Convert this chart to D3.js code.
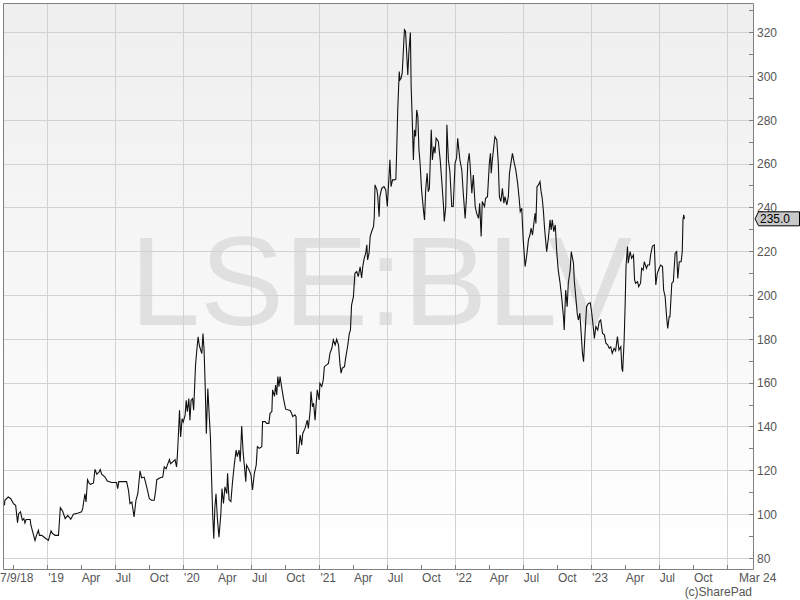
<!DOCTYPE html>
<html>
<head>
<meta charset="utf-8">
<script src="https://cdn.jsdelivr.net/npm/d3@7"></script>
<style>
  body { margin: 0; background: #fff; }
  svg text { font-family: "Liberation Sans", Arial, sans-serif; }
</style>
</head>
<body>
<svg id="chart" width="800" height="600"></svg>
<script>
// share price of LSE:BLV
var ticker = "LSE:BLV";
var startDate = "2018-09-07";   // day 0 of dayOffsets
var domainStart = "2018-09-03";
var domainEnd = "2024-03-09";
var firstLabel = "7/9/18";
var lastLabel = "Mar 24";
var lastPrice = "235.0";
var credit = "(c)SharePad";

var dayOffsets = [
  0,1,10,17,24,30,35,38,43,48,52,55,58,69,71,77,82,86,91,94,100,109,118,125,129,136,145,150,156,163,
  170,178,185,198,207,210,216,219,223,228,231,239,243,248,254,257,261,270,276,288,301,304,307,328,333,
  337,342,348,353,358,364,368,375,379,384,389,395,402,406,409,418,425,429,434,438,443,446,452,458,462,
  464,467,470,473,477,480,485,488,491,495,498,501,505,508,513,516,520,523,527,530,533,536,539,542,546,
  550,553,556,559,562,565,568,572,576,581,584,588,592,597,
  599,603,608,612,617,622,625,630,633,637,641,644,648,650,657,662,666,671,676,679,684,691,693,700,704,
  710,713,718,720,725,728,731,734,737,740,744,749,755,767,771,774,780,783,785,789,794,798,801,807,813,
  816,821,823,827,830,834,837,840,845,847,852,856,859,865,870,874,879,883,888,892,897,901,904,907,913,
  916,922,926,929,932,937,941,946,950,955,959,962,966,970,973,975,979,982,986,991,993,995,1000,1002,1006,
  1008,1013,1019,1024,1028,1031,1035,1038,1042,1047,1051,1053,1056,1060,1062,1065,1068,1071,1074,1077,
  1080,1083,1086,1090,1092,1095,1098,1101,1104,1107,1110,1113,1116,1120,1125,1128,1131,1135,1138,1141,
  1146,1149,1153,1156,1159,1165,1170,1174,1179,1181,1185,1188,1192,1196,1201,1205,1210,1214,1217,
  1221,1223,1228,1232,1237,1241,1244,1248,1250,1255,1259,1264,1268,1273,1276,1280,1283,1289,1292,1297,
  1302,1305,1307,1310,1315,1317,1322,1326,1329,1333,1337,1341,1344,1349,1353,1356,1360,1364,1369,1373,
  1378,1382,1385,1389,1393,1398,1402,1407,1411,1414,1418,1422,1425,1427,1430,1434,1438,1441,1444,1447,
  1450,1453,1456,1461,1465,1468,1471,1475,1479,1483,1487,1492,1496,1501,1503,1507,1511,1514,1519,1522,
  1528,1530,1534,1538,1541,1545,1548,1552,1555,1559,1563,1568,1573,1577,1581,1584,1588,1593,1597,1601,
  1606,1611,1615,1620,1624,1628,1632,1637,1641,1646,1650,1655,1658,1660,1664,1667,1669,1673,1675,1680,
  1684,1689,1692,1695,1700,1703,1708,1711,1715,1718,1724,1727,1732,1735,1740,1745,1749,1753,1758,1762,
  1767,1770,1774,1778,1781,1785,1787,1792,1796,1801,1805,1808,1812,1817,1820,1822,1824,1826
];

var prices = [
  104.2,106.5,108.0,107.2,105.0,104.2,96.3,100.4,101.2,97.4,98.1,96.1,97.7,97.7,95.1,91.3,88.2,90.5,92.8,90.5,
  90.5,89.3,88.2,92.5,91.3,90.5,90.5,103.1,101.6,98.1,99.6,97.8,100.1,100.7,101.2,102.7,109.5,105.7,115.9,114.1,
  113.8,114.4,120.6,118.4,119.4,120.5,118.4,117.1,115.3,114.6,114.6,111.8,115.0,115.0,111.0,105.0,105.7,98.9,106.5,109.5,
  119.9,116.8,117.1,114.6,111.0,107.2,106.5,106.5,111.0,115.9,116.8,117.1,121.7,120.9,122.9,125.1,123.2,124.0,125.1,121.7,
  126.3,136.2,147.6,135.4,143.8,142.3,145.3,152.1,146.9,152.9,143.0,152.1,152.9,147.6,168.1,174.2,181.1,177.3,175.0,173.5,
  182.6,175.0,158.2,136.9,157.5,144.5,135.4,117.1,100.4,89.0,103.4,109.5,97.4,89.7,100.4,111.8,105.0,112.6,109.5,
  118.8,106.7,105.9,114.3,122.6,129.4,126.4,129.4,124.1,140.4,127.9,122.6,115.0,122.6,120.3,118.0,111.2,118.8,122.6,131.0,
  130.2,131.0,142.4,142.4,141.6,141.6,146.2,147.0,156.9,153.9,159.1,154.6,163.0,158.4,163.0,158.4,153.1,148.1,147.5,146.2,
  144.7,145.5,144.7,127.9,127.9,136.3,131.7,137.0,139.3,143.1,139.3,147.7,156.1,149.2,150.8,143.1,150.8,156.9,152.3,159.9,
  158.4,161.4,167.5,168.3,169.0,173.6,175.9,179.7,177.4,180.0,177.4,168.3,164.5,166.8,167.5,171.3,177.4,182.7,184.2,195.6,
  199.5,210.1,210.9,208.6,213.1,208.0,213.1,217.0,219.3,223.1,216.2,219.3,226.9,229.2,231.5,236.0,250.5,248.2,245.9,236.0,
  245.1,248.9,249.7,248.2,240.6,249.7,261.9,249.7,252.8,252.8,253.1,264.9,284.7,302.2,298.4,299.2,301.5,311.4,321.3,320.5,
  310.6,300.7,311.4,320.0,295.4,280.2,261.9,275.6,272.6,284.7,281.7,266.5,260.4,248.2,239.1,234.5,248.2,255.8,247.4,248.9,
  275.6,261.9,268.0,265.0,271.8,270.3,261.9,252.8,240.6,233.8,240.6,277.9,261.9,256.7,240.6,240.6,260.4,262.7,271.8,
  264.9,261.9,257.3,246.7,235.2,245.9,260.4,264.9,260.4,246.7,255.0,240.6,237.5,235.2,242.1,226.9,242.9,240.6,244.4,245.1,
  260.4,264.9,255.8,261.9,269.5,272.5,271.0,260.4,245.1,242.9,248.9,242.1,245.1,241.3,245.1,255.8,260.4,264.9,260.4,257.3,
  251.2,244.4,238.3,239.8,225.4,213.2,217.7,225.4,227.6,230.7,227.6,233.7,237.5,232.9,249.7,250.5,252.0,247.4,244.4,239.0,
  231.4,225.4,220.0,226.9,234.5,229.9,234.5,229.1,232.2,220.0,211.6,205.6,199.5,190.3,184.2,202.5,194.9,205.6,211.6,220.0,
  214.7,207.1,199.5,191.9,188.8,191.9,184.2,173.6,169.8,182.7,194.9,196.4,196.7,191.9,185.8,180.4,185.8,184.2,188.1,188.8,
  182.7,182.0,178.2,177.4,175.9,176.6,173.6,175.9,174.7,181.2,175.1,176.6,166.7,165.2,179.7,198.0,213.2,222.3,214.7,220.0,
  217.0,218.5,207.1,205.6,206.3,204.0,205.6,212.4,211.6,215.4,212.4,213.9,213.9,218.5,222.6,223.1,204.8,210.1,212.4,213.9,
  213.2,202.5,199.5,190.3,185.0,190.3,190.3,205.6,206.3,219.3,220.0,207.8,215.4,215.4,220.0,234.5,236.8,235.0
];

var priceTicks = [80,100,120,140,160,180,200,220,240,260,280,300,320];
var minorPriceTicks = [80,90,100,110,120,130,140,150,160,170,180,190,200,210,220,230,240,250,260,270,280,290,300,310,320,330];

if (dayOffsets.length !== prices.length) throw new Error("length mismatch " + dayOffsets.length + " vs " + prices.length);

var parseDay = d3.timeParse("%Y-%m-%d");
var day0 = parseDay(startDate);
var series = dayOffsets.map(function (d, i) {
  return { date: d3.timeDay.offset(day0, d), price: prices[i] };
});

// plot box
var boxL = 3, boxR = 753, boxT = 3, boxB = 569;
var crisp = function (v) { return Math.floor(v) + 0.5; };

var x = d3.scaleTime()
  .domain([parseDay(domainStart), parseDay(domainEnd)])
  .range([boxL, boxR]);
var y = d3.scaleLinear()
  .domain([74.9, 333.3])
  .range([boxB + 0.5, boxT + 0.5]);

var svg = d3.select("#chart");
var defs = svg.append("defs");

var grad = defs.append("linearGradient")
  .attr("id", "bg").attr("x1", 0).attr("y1", 0).attr("x2", 0).attr("y2", 1);
grad.append("stop").attr("offset", "0%").attr("stop-color", "#efefef");
grad.append("stop").attr("offset", "100%").attr("stop-color", "#ffffff");

defs.append("clipPath").attr("id", "plotClip")
  .append("rect")
  .attr("x", boxL + 0.5).attr("y", boxT + 0.5)
  .attr("width", boxR - boxL).attr("height", boxB - boxT);

svg.append("rect")
  .attr("x", boxL + 0.5).attr("y", boxT + 0.5)
  .attr("width", boxR - boxL).attr("height", boxB - boxT)
  .attr("fill", "url(#bg)");

// watermark
svg.append("text")
  .attr("x", (boxL + boxR) / 2 + 3)
  .attr("y", 325)
  .attr("text-anchor", "middle")
  .attr("font-size", 126)
  .attr("fill", "#e0e0e0")
  .text(ticker);

// grid: horizontal every 20, vertical every half year
var quarters = x.ticks(d3.timeMonth.every(3));
var halfYears = quarters.filter(function (d) { return d.getMonth() % 6 === 0; });

svg.append("g").selectAll("line")
  .data(priceTicks).enter().append("line")
  .attr("x1", boxL + 0.5).attr("x2", boxR + 0.5)
  .attr("y1", function (d) { return crisp(y(d)); })
  .attr("y2", function (d) { return crisp(y(d)); })
  .attr("stroke", "#d2d2d2").attr("stroke-width", 1);

svg.append("g").selectAll("line")
  .data(halfYears).enter().append("line")
  .attr("x1", function (d) { return crisp(x(d)); })
  .attr("x2", function (d) { return crisp(x(d)); })
  .attr("y1", boxT + 0.5).attr("y2", boxB + 0.5)
  .attr("stroke", "#d2d2d2").attr("stroke-width", 1);

// price line
var line = d3.line()
  .x(function (d) { return x(d.date); })
  .y(function (d) { return y(d.price); });

svg.append("path")
  .datum(series)
  .attr("clip-path", "url(#plotClip)")
  .attr("d", line)
  .attr("fill", "none")
  .attr("stroke", "#111")
  .attr("stroke-width", 1.1)
  .attr("stroke-linejoin", "miter");

// frame
svg.append("path")
  .attr("d", "M" + (boxR + 0.5) + "," + (boxB + 0.5) + "H" + (boxL + 0.5) + "V" + (boxT + 0.5) + "H" + (boxR + 0.5) + "V" + (boxB + 0.5))
  .attr("fill", "none").attr("stroke", "#808080").attr("stroke-width", 1);

// y axis ticks (inward) and labels on the right
svg.append("g").selectAll("line")
  .data(minorPriceTicks).enter().append("line")
  .attr("x1", boxR - 4).attr("x2", boxR + 0.5)
  .attr("y1", function (d) { return crisp(y(d)); })
  .attr("y2", function (d) { return crisp(y(d)); })
  .attr("stroke", "#808080");

svg.append("g").selectAll("text")
  .data(priceTicks).enter().append("text")
  .attr("x", boxR + 4)
  .attr("y", function (d) { return y(d) + 4.3; })
  .attr("font-size", 12)
  .attr("fill", "#555")
  .text(function (d) { return d; });

// x axis ticks (quarters) and labels
svg.append("g").selectAll("line")
  .data(quarters).enter().append("line")
  .attr("x1", function (d) { return crisp(x(d)); })
  .attr("x2", function (d) { return crisp(x(d)); })
  .attr("y1", boxB - 4).attr("y2", boxB + 0.5)
  .attr("stroke", "#808080");

var fmtMonth = d3.timeFormat("%b");
var fmtYear = d3.timeFormat("'%y");
var labelled = quarters.filter(function (d) {
  return x(d) - x.range()[0] > 30 && x.range()[1] - x(d) > 40;
});

svg.append("g").selectAll("text")
  .data(labelled).enter().append("text")
  .attr("x", function (d) { return x(d) + 0.5; })
  .attr("y", boxB + 13)
  .attr("font-size", 12)
  .attr("fill", "#555")
  .text(function (d) { return d.getMonth() === 0 ? fmtYear(d) : fmtMonth(d); });

svg.append("text")
  .attr("x", x(parseDay(domainStart)) - 3)
  .attr("y", boxB + 13)
  .attr("font-size", 12).attr("fill", "#555")
  .text(firstLabel);

svg.append("text")
  .attr("x", x(parseDay(domainEnd)) - 14)
  .attr("y", boxB + 13)
  .attr("font-size", 12).attr("fill", "#555")
  .text(lastLabel);

svg.append("text")
  .attr("x", boxR - 1)
  .attr("y", boxB + 27)
  .attr("text-anchor", "end")
  .attr("font-size", 12).attr("fill", "#555")
  .text(credit);

// last price marker
var py = y(series[series.length - 1].price);
var bx = boxR + 5.5, bw = 41, bh = 14;
svg.append("path")
  .attr("d", "M" + (bx - 3.5) + "," + py + "L" + bx + "," + (py - bh / 2) + "H" + (bx + bw) + "V" + (py + bh / 2) + "H" + bx + "Z")
  .attr("fill", "#c8c8c8").attr("stroke", "#000").attr("stroke-width", 1);
svg.append("text")
  .attr("x", bx + 1.5)
  .attr("y", py + 4.3)
  .attr("font-size", 12).attr("fill", "#000")
  .text(lastPrice);
</script>
</body>
</html>
